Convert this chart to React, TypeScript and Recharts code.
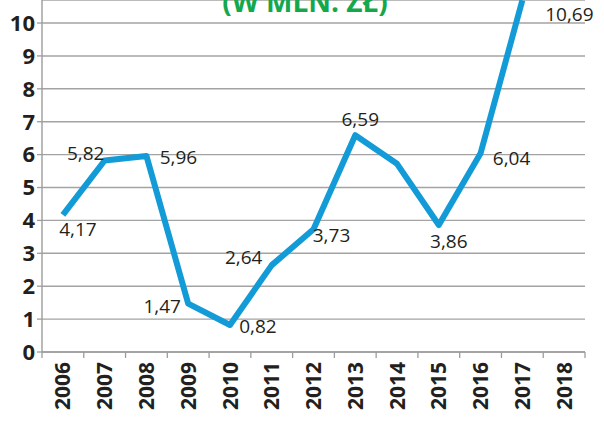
import React from "react"
import { LineChart, Line, XAxis, YAxis, CartesianGrid, LabelList } from "recharts"

// years on the axis, 2018 has no value
const years = ["2006", "2007", "2008", "2009", "2010", "2011", "2012", "2013", "2014", "2015", "2016", "2017", "2018"]
const values = [4.17, 5.82, 5.96, 1.47, 0.82, 2.64, 3.73, 6.59, 5.72, 3.86, 6.04, 10.69, null]
const shownLabels = [true, true, true, true, true, true, true, true, false, true, true, true, false]
const yTicks = [0, 1, 2, 3, 4, 5, 6, 7, 8, 9, 10]
const title = "(W MLN. ZŁ)"

// label placement around each point (dx, dy of text centre)
const labelOffsets: [number, number][] = [
  [15, 14], [-19, -8], [32, 1], [-26, 2], [28, 1], [-28, -8],
  [18, 6], [5, -16], [0, 0], [10, 16], [31, 5], [47, 14], [0, 0],
]

const W = 604
const H = 423
const M = { top: 0, right: 19, bottom: 0, left: 0 }
const Y_AXIS_W = 42
const X_AXIS_H = 71
const half = (W - M.left - M.right - Y_AXIS_W) / years.length / 2

const data = years.map((year, i) => ({ year, value: values[i] }))

const fmt = (v: number) => v.toFixed(2).replace(".", ",")

const XTick = (props: any) => {
  const { x, y, payload, index } = props
  return (
    <g transform={`translate(${x},${y})`}>
      <line x1={-half} x2={-half} y1={0} y2={6} stroke="#9c9c9c" strokeWidth={1.3} />
      {index === years.length - 1 && (
        <line x1={half} x2={half} y1={0} y2={6} stroke="#9c9c9c" strokeWidth={1.3} />
      )}
      <text
        transform="rotate(-90)"
        x={-10}
        y={0}
        dy="0.36em"
        textAnchor="end"
        fontFamily="'Open Sans', sans-serif"
        fontWeight={700}
        fontSize={21}
        fill="#231f20"
      >
        {payload.value}
      </text>
    </g>
  )
}

const PointLabel = (props: any) => {
  const { x, y, value, index } = props
  if (value == null || !shownLabels[index]) return null
  const [dx, dy] = labelOffsets[index]
  return (
    <text
      x={x + dx}
      y={y + dy}
      textAnchor="middle"
      dominantBaseline="central"
      fontFamily="'Open Sans', sans-serif"
      fontSize={19}
      fill="#231f20"
    >
      {fmt(value)}
    </text>
  )
}

export default function App() {
  return (
    <div style={{ position: "fixed", left: 0, top: 0, width: W, height: H, overflow: "hidden", background: "#fff" }}>
      <LineChart width={W} height={H} data={data} margin={M}>
        <CartesianGrid vertical={false} stroke="#a3a3a3" strokeWidth={1.4} />
        <XAxis
          dataKey="year"
          scale="band"
          height={X_AXIS_H}
          interval={0}
          tickSize={0}
          tickMargin={0}
          tick={<XTick />}
          axisLine={{ stroke: "#9c9c9c", strokeWidth: 1.4 }}
        />
        <YAxis
          width={Y_AXIS_W}
          domain={[0, 10.7]}
          ticks={yTicks}
          interval={0}
          tickSize={5}
          tickLine={{ stroke: "#9c9c9c", strokeWidth: 1.3 }}
          axisLine={{ stroke: "#9c9c9c", strokeWidth: 1.4 }}
          tick={{ fontFamily: "'Open Sans', sans-serif", fontWeight: 700, fontSize: 22, fill: "#231f20" }}
        />
        <Line
          type="linear"
          dataKey="value"
          stroke="#139bd8"
          strokeWidth={6}
          strokeLinejoin="round"
          dot={false}
          activeDot={false}
          isAnimationActive={false}
        >
          <LabelList dataKey="value" content={<PointLabel />} />
        </Line>
      </LineChart>
      <svg width={W} height={H} style={{ position: "absolute", left: 0, top: 0, pointerEvents: "none" }}>
        <text
          x={305}
          y={12}
          textAnchor="middle"
          fontFamily="'Open Sans', sans-serif"
          fontWeight={700}
          fontSize={28}
          fill="#14a84c"
        >
          {title}
        </text>
      </svg>
    </div>
  )
}
